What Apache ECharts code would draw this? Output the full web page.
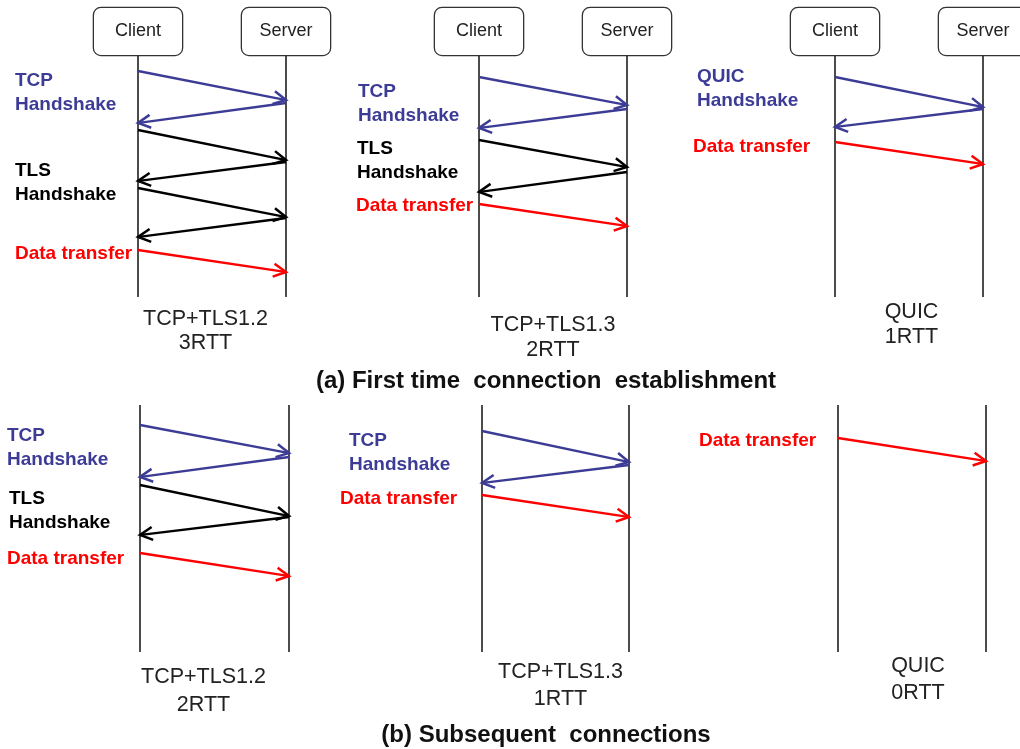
<!DOCTYPE html>
<html>
<head>
<meta charset="utf-8">
<script src="https://cdn.jsdelivr.net/npm/echarts@6/dist/echarts.min.js"></script>
<style>html,body{margin:0;padding:0;background:#fff}#c{width:1020px;height:749px}</style>
</head>
<body>
<div id="c"></div>
<script>
// ---------- data ----------
const lanes = ['Client', 'Server'];
const kindNames = ['handshake', 'tls', 'data'];
// message: [fromLane (0=Client,1=Server), sendTime, arriveTime, kind]
const msgsA1 = [[0,16,45,0],[1,48,68,0],[0,75,105,1],[1,107,126,1],[0,133,162,1],[1,163,182,1],[0,195,217,2]];
const msgsA2 = [[0,22,50,0],[1,54,73,0],[0,85,112,1],[1,117,137,1],[0,149,171,2]];
const msgsA3 = [[0,22,52,0],[1,54,72,0],[0,87,109,2]];
const msgsB1 = [[0,20,48,0],[1,52,72,0],[0,80,111,1],[1,112,130,1],[0,148,171,2]];
const msgsB2 = [[0,26,57,0],[1,60,78,0],[0,90,112,2]];
const msgsB3 = [[0,33,56,2]];
// phase labels: [text, kind]
const phasesA1 = [['TCP\nHandshake',0],['TLS\nHandshake',1],['Data transfer',2]];
const phasesA2 = [['TCP\nHandshake',0],['TLS\nHandshake',1],['Data transfer',2]];
const phasesA3 = [['QUIC\nHandshake',0],['Data transfer',2]];
const phasesB1 = [['TCP\nHandshake',0],['TLS\nHandshake',1],['Data transfer',2]];
const phasesB2 = [['TCP\nHandshake',0],['Data transfer',2]];
const phasesB3 = [['Data transfer',2]];
const captions = ['TCP+TLS1.2\n3RTT','TCP+TLS1.3\n2RTT','QUIC\n1RTT','TCP+TLS1.2\n2RTT','TCP+TLS1.3\n1RTT','QUIC\n0RTT'];
const sectionTitles = ['(a) First time  connection  establishment', '(b) Subsequent  connections'];

// ---------- layout & style ----------
const FONT = '"Liberation Sans", Arial, sans-serif';
const kindColors = ['#3c3c96', '#000000', '#ff0000'];
const panels = [
  {msgs: msgsA1, phases: phasesA1, left: 138, width: 148, top: 55, height: 242, boxes: true,
   phasePos: [[15,81],[15,170.5],[15,253.5]], cap: [205.5,331,23.5]},
  {msgs: msgsA2, phases: phasesA2, left: 479, width: 148, top: 55, height: 242, boxes: true,
   phasePos: [[358,92],[357,148.5],[356,205.5]], cap: [553,337.5,25]},
  {msgs: msgsA3, phases: phasesA3, left: 835, width: 148, top: 55, height: 242, boxes: true,
   phasePos: [[697,76.5],[693,147]], cap: [911.5,325,25]},
  {msgs: msgsB1, phases: phasesB1, left: 140, width: 149, top: 405, height: 247, boxes: false,
   phasePos: [[7,435.5],[9,498.5],[7,559]], cap: [203.5,691,27.5]},
  {msgs: msgsB2, phases: phasesB2, left: 482, width: 147, top: 405, height: 247, boxes: false,
   phasePos: [[349,440.5],[340,498.5]], cap: [560.5,686,27]},
  {msgs: msgsB3, phases: phasesB3, left: 838, width: 148, top: 405, height: 247, boxes: false,
   phasePos: [[699,440.5]], cap: [918,680,27]}
];
const titlePos = [[546,381],[546,735.5]];

function renderArrow(params, api) {
  const from = api.value(0);
  const a = api.coord([from, api.value(1)]);
  const b = api.coord([1 - from, api.value(2)]);
  const color = kindColors[api.value(3)];
  const dx = b[0] - a[0], dy = b[1] - a[1];
  const L = Math.hypot(dx, dy), ux = dx / L, uy = dy / L;
  const hl = 12.5, hw = 6.5;
  const p1 = [b[0] - ux * hl - uy * hw, b[1] - uy * hl + ux * hw];
  const p2 = [b[0] - ux * hl + uy * hw, b[1] - uy * hl - ux * hw];
  return {
    type: 'group',
    children: [
      {type: 'line', shape: {x1: a[0], y1: a[1], x2: b[0] - ux, y2: b[1] - uy},
       style: {stroke: color, lineWidth: 2.3}},
      {type: 'polyline', shape: {points: [p1, b, p2]},
       style: {stroke: color, lineWidth: 2.5, fill: null}}
    ]
  };
}

const grid = [], xAxis = [], yAxis = [], series = [], graphic = [];
panels.forEach((p, i) => {
  grid.push({left: p.left, top: p.top, width: p.width, height: p.height, outerBoundsMode: 'none', containLabel: false});
  xAxis.push({
    type: 'value', gridIndex: i, min: 0, max: 1, interval: 1, position: 'top',
    axisLine: {show: false}, axisTick: {show: false},
    splitLine: {show: true, showMinLine: true, showMaxLine: true, lineStyle: {color: '#111', width: 1.5}},
    axisLabel: {
      show: p.boxes, margin: 0, showMinLabel: true, showMaxLabel: true,
      formatter: v => lanes[Math.round(v)],
      fontFamily: FONT, fontSize: 18, color: '#222',
      width: 88, height: 47, lineHeight: 47, align: 'center', verticalAlign: 'bottom',
      backgroundColor: '#fff', borderColor: '#333', borderWidth: 1.3, borderRadius: 7, padding: 0
    }
  });
  yAxis.push({type: 'value', gridIndex: i, min: 0, max: p.height, inverse: true, show: false, splitLine: {show: false}});
  series.push({
    type: 'custom', coordinateSystem: 'cartesian2d', xAxisIndex: i, yAxisIndex: i,
    renderItem: renderArrow, data: p.msgs, clip: false, silent: true
  });
  p.phases.forEach((ph, j) => {
    const pos = p.phasePos[j];
    graphic.push({
      type: 'text', x: pos[0], y: pos[1] - 12, silent: true,
      style: {text: ph[0], fill: kindColors[ph[1]], fontFamily: FONT, fontSize: 19, fontWeight: 'bold',
              lineHeight: 24, align: 'left', verticalAlign: 'top'}
    });
  });
  graphic.push({
    type: 'text', x: p.cap[0], y: p.cap[1], silent: true,
    style: {text: captions[i], fill: '#222', fontFamily: FONT, fontSize: 21.5,
            lineHeight: p.cap[2], align: 'center', verticalAlign: 'middle'}
  });
});
sectionTitles.forEach((t, i) => {
  graphic.push({
    type: 'text', x: titlePos[i][0], y: titlePos[i][1], silent: true,
    style: {text: t, fill: '#111', fontFamily: FONT, fontSize: 24, fontWeight: 'bold',
            align: 'center', verticalAlign: 'middle'}
  });
});

const chart = echarts.init(document.getElementById('c'), null, {renderer: 'canvas'});
chart.setOption({
  backgroundColor: '#fff',
  animation: false,
  grid, xAxis, yAxis, series, graphic
});
</script>
</body>
</html>
